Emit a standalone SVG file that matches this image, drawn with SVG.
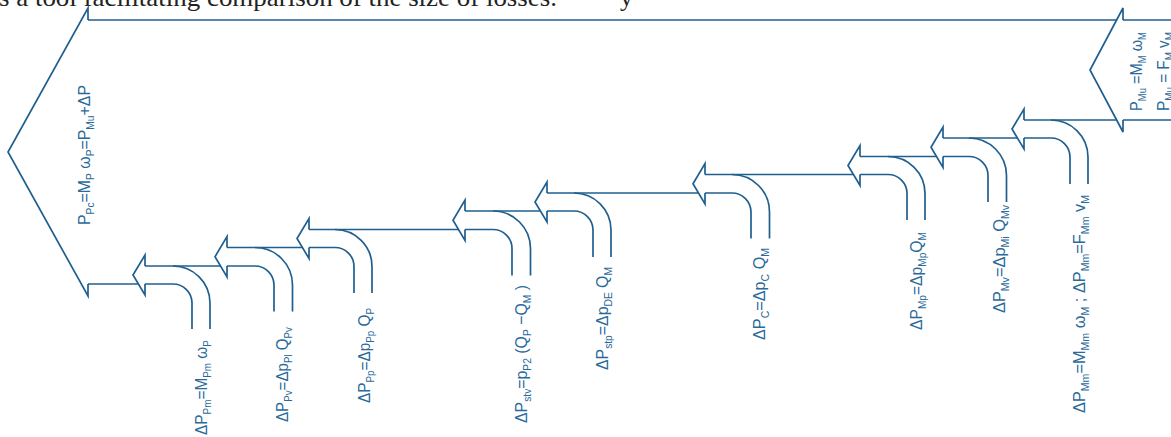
<svg xmlns="http://www.w3.org/2000/svg" width="1171" height="437" viewBox="0 0 1171 437">
<style>
.ln{fill:none;stroke:#1f5f8f;stroke-width:1.7;stroke-linejoin:miter}
.lb{font-family:"Liberation Sans",Arial,sans-serif;font-size:17px;fill:#2a6a9a}
.s{font-size:11px}
.pg{font-family:"Liberation Serif","Times New Roman",serif;font-size:26px;fill:#222}
</style>
<rect width="1171" height="437" fill="#fff"/>
<text class="pg" x="-1" y="5.5" textLength="558" lengthAdjust="spacingAndGlyphs">s a tool facilitating comparison of the size of losses.</text>
<text class="pg" x="620" y="5.5">y</text>

<g id="connectors" class="ln">
<path d="M88,20 H1116.6 M1123,20 H1171"/>
<path d="M88,284 H138.4"/>
<path d="M173,266 H220.4"/>
<path d="M255,247.5 H302.4"/>
<path d="M335,229.5 H458.4"/>
<path d="M493,211 H540.4"/>
<path d="M574,193 H698.4"/>
<path d="M732,174.5 H853.4"/>
<path d="M888,156.5 H936.4"/>
<path d="M969,138 H1017.4"/>
<path d="M1051,120 H1116.6 M1123,120 H1171"/>
</g>

<g id="input-Pc">
<path class="ln" d="M88,20 V8 L8,152 L88,296 V284"/>
<text class="lb" transform="translate(90,225) rotate(-90)" textLength="140" lengthAdjust="spacingAndGlyphs">P<tspan class="s" dy="3.5">Pc</tspan><tspan dy="-3.5">=M</tspan><tspan class="s" dy="3.5">P</tspan><tspan dy="-3.5"> ω</tspan><tspan class="s" dy="3.5">P</tspan><tspan dy="-3.5">=P</tspan><tspan class="s" dy="3.5">Mu</tspan><tspan dy="-3.5">+ΔP</tspan></text>
</g>

<g id="output-Mu">
<path class="ln" d="M1123,20 V8 L1090,70 L1123,132 V120"/>
<text class="lb" transform="translate(1142,111) rotate(-90)" textLength="79" lengthAdjust="spacingAndGlyphs">P<tspan class="s" dy="3.5">Mu</tspan><tspan dy="-3.5"> =M</tspan><tspan class="s" dy="3.5">M</tspan><tspan dy="-3.5"> ω</tspan><tspan class="s" dy="3.5">M</tspan></text>
<text class="lb" transform="translate(1169,111) rotate(-90)" textLength="79" lengthAdjust="spacingAndGlyphs">P<tspan class="s" dy="3.5">Mu</tspan><tspan dy="-3.5"> = F</tspan><tspan class="s" dy="3.5">M</tspan><tspan dy="-3.5"> v</tspan><tspan class="s" dy="3.5">M</tspan></text>
</g>

<g id="loss-Pm">
<path class="ln" d="M145,266 V255 L133,275 L145,295 V284"/>
<path class="ln" d="M145,266 H173 A37,37 0 0 1 210,303 V329"/>
<path class="ln" d="M145,284 H173 A19,19 0 0 1 192,303 V329"/>
<text class="lb" transform="translate(207,435) rotate(-90)" textLength="95" lengthAdjust="spacingAndGlyphs">ΔP<tspan class="s" dy="3.5">Pm</tspan><tspan dy="-3.5">=M</tspan><tspan class="s" dy="3.5">Pm</tspan><tspan dy="-3.5"> ω</tspan><tspan class="s" dy="3.5">P</tspan></text>
</g>

<g id="loss-Pv">
<path class="ln" d="M227,247.5 V236.5 L215,256.75 L227,277 V266"/>
<path class="ln" d="M227,247.5 H255 A37.5,37.5 0 0 1 292.5,285 V311.5"/>
<path class="ln" d="M227,266 H255 A19,19 0 0 1 274,285 V311.5"/>
<text class="lb" transform="translate(288,422) rotate(-90)" textLength="95" lengthAdjust="spacingAndGlyphs">ΔP<tspan class="s" dy="3.5">Pv</tspan><tspan dy="-3.5">=Δp</tspan><tspan class="s" dy="3.5">Pl</tspan><tspan dy="-3.5"> Q</tspan><tspan class="s" dy="3.5">Pv</tspan></text>
</g>

<g id="loss-Pp">
<path class="ln" d="M309,229.5 V218.5 L297,238.5 L309,258.5 V247.5"/>
<path class="ln" d="M309,229.5 H335 A37,37 0 0 1 372,266.5 V293"/>
<path class="ln" d="M309,247.5 H335 A19,19 0 0 1 354,266.5 V293"/>
<text class="lb" transform="translate(370,403) rotate(-90)" textLength="95" lengthAdjust="spacingAndGlyphs">ΔP<tspan class="s" dy="3.5">Pp</tspan><tspan dy="-3.5">=Δp</tspan><tspan class="s" dy="3.5">Pp</tspan><tspan dy="-3.5"> Q</tspan><tspan class="s" dy="3.5">P</tspan></text>
</g>

<g id="loss-stv">
<path class="ln" d="M465,211 V200 L453,220.25 L465,240.5 V229.5"/>
<path class="ln" d="M465,211 H493 A37.5,37.5 0 0 1 530.5,248.5 V275.5"/>
<path class="ln" d="M465,229.5 H493 A19,19 0 0 1 512,248.5 V275.5"/>
<text class="lb" transform="translate(527,423) rotate(-90)" textLength="138" lengthAdjust="spacingAndGlyphs">ΔP<tspan class="s" dy="3.5">stv</tspan><tspan dy="-3.5">=p</tspan><tspan class="s" dy="3.5">P2</tspan><tspan dy="-3.5"> (Q</tspan><tspan class="s" dy="3.5">P</tspan><tspan dy="-3.5"> −Q</tspan><tspan class="s" dy="3.5">M</tspan><tspan dy="-3.5"> )</tspan></text>
</g>

<g id="loss-stp">
<path class="ln" d="M547,193 V182 L535,202 L547,222 V211"/>
<path class="ln" d="M547,193 H574 A37,37 0 0 1 611,230 V257"/>
<path class="ln" d="M547,211 H574 A19,19 0 0 1 593,230 V257"/>
<text class="lb" transform="translate(608,370) rotate(-90)" textLength="103" lengthAdjust="spacingAndGlyphs">ΔP<tspan class="s" dy="3.5">stp</tspan><tspan dy="-3.5">=Δp</tspan><tspan class="s" dy="3.5">DE</tspan><tspan dy="-3.5"> Q</tspan><tspan class="s" dy="3.5">M</tspan></text>
</g>

<g id="loss-C">
<path class="ln" d="M705,174.5 V163.5 L693,183.75 L705,204 V193"/>
<path class="ln" d="M705,174.5 H732 A37.5,37.5 0 0 1 769.5,212 V238.5"/>
<path class="ln" d="M705,193 H732 A19,19 0 0 1 751,212 V238.5"/>
<text class="lb" transform="translate(765,340) rotate(-90)" textLength="92" lengthAdjust="spacingAndGlyphs">ΔP<tspan class="s" dy="3.5">C</tspan><tspan dy="-3.5">=Δp</tspan><tspan class="s" dy="3.5">C</tspan><tspan dy="-3.5"> Q</tspan><tspan class="s" dy="3.5">M</tspan></text>
</g>

<g id="loss-Mp">
<path class="ln" d="M860,156.5 V145.5 L848,165.5 L860,185.5 V174.5"/>
<path class="ln" d="M860,156.5 H888 A37,37 0 0 1 925,193.5 V220"/>
<path class="ln" d="M860,174.5 H888 A19,19 0 0 1 907,193.5 V220"/>
<text class="lb" transform="translate(922,330) rotate(-90)" textLength="98" lengthAdjust="spacingAndGlyphs">ΔP<tspan class="s" dy="3.5">Mp</tspan><tspan dy="-3.5">=Δp</tspan><tspan class="s" dy="3.5">Mp</tspan><tspan dy="-3.5">Q</tspan><tspan class="s" dy="3.5">M</tspan></text>
</g>

<g id="loss-Mv">
<path class="ln" d="M943,138 V127 L931,147.25 L943,167.5 V156.5"/>
<path class="ln" d="M943,138 H969 A37.5,37.5 0 0 1 1006.5,175.5 V202"/>
<path class="ln" d="M943,156.5 H969 A19,19 0 0 1 988,175.5 V202"/>
<text class="lb" transform="translate(1005,313) rotate(-90)" textLength="108" lengthAdjust="spacingAndGlyphs">ΔP<tspan class="s" dy="3.5">Mv</tspan><tspan dy="-3.5">=Δp</tspan><tspan class="s" dy="3.5">Mi</tspan><tspan dy="-3.5"> Q</tspan><tspan class="s" dy="3.5">Mv</tspan></text>
</g>

<g id="loss-Mm">
<path class="ln" d="M1024,120 V109 L1012,129 L1024,149 V138"/>
<path class="ln" d="M1024,120 H1051 A37,37 0 0 1 1088,157 V184"/>
<path class="ln" d="M1024,138 H1051 A19,19 0 0 1 1070,157 V184"/>
<text class="lb" transform="translate(1085,413) rotate(-90)" textLength="218" lengthAdjust="spacingAndGlyphs">ΔP<tspan class="s" dy="3.5">Mm</tspan><tspan dy="-3.5">=M</tspan><tspan class="s" dy="3.5">Mm</tspan><tspan dy="-3.5"> ω</tspan><tspan class="s" dy="3.5">M</tspan><tspan dy="-3.5"> ; ΔP</tspan><tspan class="s" dy="3.5">Mm</tspan><tspan dy="-3.5">=F</tspan><tspan class="s" dy="3.5">Mm</tspan><tspan dy="-3.5"> v</tspan><tspan class="s" dy="3.5">M</tspan></text>
</g>
</svg>
